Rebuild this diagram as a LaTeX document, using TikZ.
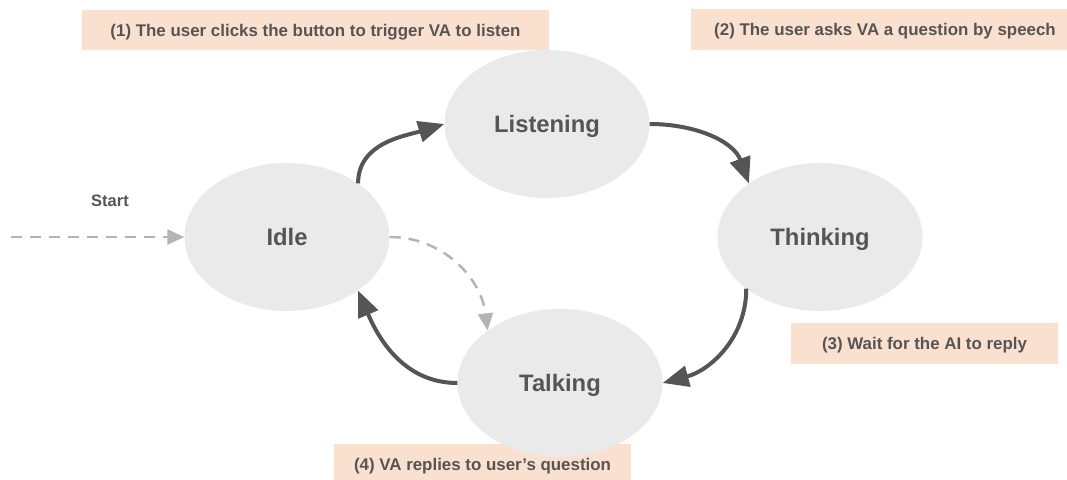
\documentclass[tikz,border=0pt]{standalone}
\usepackage{fontspec}
\setmainfont{Liberation Sans}
\usetikzlibrary{shapes.geometric,arrows.meta}
\definecolor{txtgrey}{HTML}{555555}
\definecolor{nodegrey}{HTML}{EAEAEA}
\definecolor{peach}{HTML}{FAE0CE}
\definecolor{arrowdark}{HTML}{555555}
\definecolor{arrowlight}{HTML}{B4B4B4}

\begin{document}
\begin{tikzpicture}[x=1pt,y=1pt,
  state/.style={ellipse, fill=nodegrey, minimum width=205pt, minimum height=148pt,
    inner sep=0pt, text depth=0pt, text=txtgrey, font=\bfseries\fontsize{23.8}{28}\selectfont},
  note/.style={rectangle, fill=peach, inner sep=0pt, text depth=0pt, text=txtgrey,
    font=\bfseries\fontsize{16.9}{20}\selectfont},
  flow/.style={draw=arrowdark, line width=4pt, -{Triangle[length=26pt,width=21pt]}},
  hint/.style={draw=arrowlight, line width=2.5pt, dash pattern=on 11pt off 8pt,
    -{Triangle[length=17pt,width=15pt]}},
]
\useasboundingbox (0,0) rectangle (1067,-479);

% step notes
\node[note, minimum width=467pt, minimum height=40pt] (n1) at (315.5,-30)
  {(1) The user clicks the button to trigger VA to listen};
\node[note, minimum width=388pt, minimum height=41pt] (n2) at (885,-29.5)
  {(2) The user asks VA a question by speech};
\node[note, minimum width=267pt, minimum height=41pt] (n3) at (924.5,-343.5)
  {(3) Wait for the AI to reply};
\node[note, minimum width=297pt, minimum height=40pt] (n4) at (482.5,-464)
  {(4) VA replies to user’s question};

% states
\node[state] (idle) at (287,-237) {Idle};
\node[state] (listening) at (547,-124) {Listening};
\node[state] (thinking) at (820,-237) {Thinking};
\node[state] (talking) at (560,-383) {Talking};

% entry point
\coordinate (start) at (11,-237);
\node[text=txtgrey, text depth=0pt, font=\bfseries\fontsize{16.5}{20}\selectfont] (startlbl) at (110,-201) {Start};
\draw[hint] (start) -- (idle.west);

% main cycle
\draw[flow] (idle.37) to[out=90, in=197] (listening.west);
\draw[flow] (listening.east) to[out=0, in=110] (thinking.143);
\draw[flow] (thinking.215) to[out=-90, in=15] (talking.east);
\draw[flow] (talking.west) to[out=180, in=-67] (idle.-37);

% shortcut from idle to talking
\draw[hint] (idle.east) to[out=0, in=97] (talking.144);
\end{tikzpicture}
\end{document}
